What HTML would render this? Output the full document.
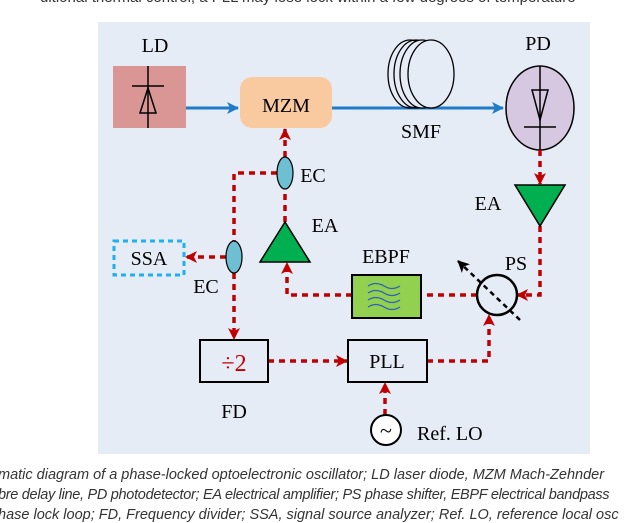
<!DOCTYPE html>
<html><head><style>
body{margin:0;width:640px;height:520px;overflow:hidden;background:#fff;position:relative;font-family:"Liberation Sans",sans-serif}
.cap{position:absolute;white-space:nowrap;font-style:italic;font-size:14.5px;color:#333;}
</style></head><body>
<div class="cap" style="left:40px;top:-11px;font-style:normal;font-size:15px">ditional thermal control, a PLL may lose lock within a few degrees of temperature</div>
<svg width="640" height="520" style="position:absolute;left:0;top:0" font-family="Liberation Serif,serif">
<defs>
<marker id="r" markerWidth="12" markerHeight="12" refX="11" refY="6" orient="auto" markerUnits="userSpaceOnUse" viewBox="0 0 12 12"><path d="M0,0L12,6L0,12L3,6z" fill="#c00000"/></marker>
<marker id="b" markerWidth="12" markerHeight="12" refX="11" refY="6" orient="auto" markerUnits="userSpaceOnUse"><path d="M0,0L12,6L0,12L3,6z" fill="#1f7bc8"/></marker>
<marker id="k" markerWidth="12" markerHeight="12" refX="11" refY="6" orient="auto" markerUnits="userSpaceOnUse"><path d="M0,0L12,6L0,12L3,6z" fill="#000"/></marker>
</defs>
<rect x="98" y="22" width="492" height="432" fill="#e6ecf6"/>
<rect x="113" y="66" width="73" height="62" fill="#d99694"/>
<text x="155" y="52" font-size="20" text-anchor="middle">LD</text>
<line x1="148" y1="66" x2="148" y2="128" stroke="#000" stroke-width="1.5"/>
<line x1="132" y1="86" x2="164" y2="86" stroke="#000" stroke-width="1.5"/>
<path d="M148,88 L140,113 L156,113 Z" fill="none" stroke="#000" stroke-width="1.5"/>
<line x1="186" y1="108" x2="238" y2="108" stroke="#1f7bc8" stroke-width="3" marker-end="url(#b)"/>
<rect x="240" y="77" width="92" height="51" rx="12" fill="#f9c9a0"/>
<text x="286" y="112" font-size="20" text-anchor="middle">MZM</text>
<line x1="332" y1="108" x2="503" y2="108" stroke="#1f7bc8" stroke-width="3" marker-end="url(#b)"/>
<g fill="none" stroke="#000" stroke-width="1.3">
<ellipse cx="410" cy="74" rx="22" ry="34"/><ellipse cx="416" cy="74" rx="22" ry="34"/><ellipse cx="422" cy="74" rx="22" ry="34" fill="#e6ecf6"/><ellipse cx="431" cy="74" rx="23" ry="34" fill="#e6ecf6"/>
</g>
<text x="421" y="138" font-size="20" text-anchor="middle">SMF</text>
<text x="538" y="50" font-size="20" text-anchor="middle">PD</text>
<ellipse cx="540" cy="108" rx="34" ry="42" fill="#d6c8e0" stroke="#000" stroke-width="1.5"/>
<line x1="540" y1="66" x2="540" y2="150" stroke="#000" stroke-width="1.5"/>
<path d="M532,90 L548,90 L540,120 Z" fill="none" stroke="#000" stroke-width="1.5"/>
<line x1="524" y1="127" x2="556" y2="127" stroke="#000" stroke-width="1.5"/>
<g stroke="#c00000" stroke-width="3.5" stroke-dasharray="6,5" fill="none">
<path d="M540,150 V184" marker-end="url(#r)"/>
<path d="M540,226 V295 H517" marker-end="url(#r)"/>
<path d="M477,295 H421"/>
<path d="M352,295 H287 V263" marker-end="url(#r)"/>
<path d="M285,222 V189"/>
<path d="M285,157 V129" marker-end="url(#r)"/>
<path d="M277,173 H234 V241"/>
<path d="M226,257 H186" marker-end="url(#r)"/>
<path d="M234,273 V339" marker-end="url(#r)"/>
<path d="M268,361 H347" marker-end="url(#r)"/>
<path d="M427,361 H489 V315" marker-end="url(#r)"/>
<path d="M385,415 V383" marker-end="url(#r)"/>
</g>
<path d="M515,185 L565,185 L540,226 Z" fill="#00b050" stroke="#000" stroke-width="1.5"/>
<text x="488" y="210" font-size="20" text-anchor="middle">EA</text>
<circle cx="497" cy="295" r="20" fill="none" stroke="#000" stroke-width="2.5"/>
<line x1="520" y1="320" x2="458" y2="261" stroke="#000" stroke-width="2.5" stroke-dasharray="5,4" marker-end="url(#k)"/>
<text x="516" y="270" font-size="20" text-anchor="middle">PS</text>
<rect x="352" y="275" width="69" height="43" fill="#92d050" stroke="#000" stroke-width="2"/>
<g fill="none" stroke="#2f5fc0" stroke-width="1.3"><path d="M368,286 q8,-5 16,0 t16,0"/><path d="M368,293 q8,-5 16,0 t16,0"/><path d="M368,300 q8,-5 16,0 t16,0"/><path d="M368,307 q8,-5 16,0 t16,0"/></g>
<text x="386" y="263" font-size="20" text-anchor="middle">EBPF</text>
<path d="M260,262 L310,262 L285,222 Z" fill="#00b050" stroke="#000" stroke-width="1.5"/>
<text x="325" y="232" font-size="20" text-anchor="middle">EA</text>
<ellipse cx="285" cy="173" rx="8" ry="16" fill="#6fbfd3" stroke="#000" stroke-width="1.2"/>
<text x="313" y="182" font-size="20" text-anchor="middle">EC</text>
<ellipse cx="234" cy="257" rx="8" ry="16" fill="#6fbfd3" stroke="#000" stroke-width="1.2"/>
<text x="206" y="293" font-size="20" text-anchor="middle">EC</text>
<rect x="114" y="241" width="70" height="34" fill="none" stroke="#1fb0f0" stroke-width="3" stroke-dasharray="5,4"/>
<text x="149" y="265" font-size="20" text-anchor="middle">SSA</text>
<rect x="200" y="340" width="68" height="42" fill="none" stroke="#000" stroke-width="2"/>
<text x="234" y="371" font-size="24" text-anchor="middle" fill="#c00000">÷2</text>
<text x="234" y="418" font-size="20" text-anchor="middle">FD</text>
<rect x="348" y="340" width="79" height="42" fill="none" stroke="#000" stroke-width="2"/>
<text x="387" y="368" font-size="20" text-anchor="middle">PLL</text>
<circle cx="386" cy="430" r="15" fill="#fff" stroke="#000" stroke-width="2"/>
<text x="386" y="438" font-size="22" text-anchor="middle">~</text>
<text x="417" y="440" font-size="20">Ref. LO</text>
</svg>
<div class="cap" style="left:-2px;top:467px">matic diagram of a phase-locked optoelectronic oscillator; LD laser diode, MZM Mach-Zehnder</div>
<div class="cap" style="left:-2px;top:487px;letter-spacing:-0.3px">bre delay line, PD photodetector; EA electrical amplifier; PS phase shifter, EBPF electrical bandpass</div>
<div class="cap" style="left:-2px;top:507px">hase lock loop; FD, Frequency divider; SSA, signal source analyzer; Ref. LO, reference local osc</div>
</body></html>
